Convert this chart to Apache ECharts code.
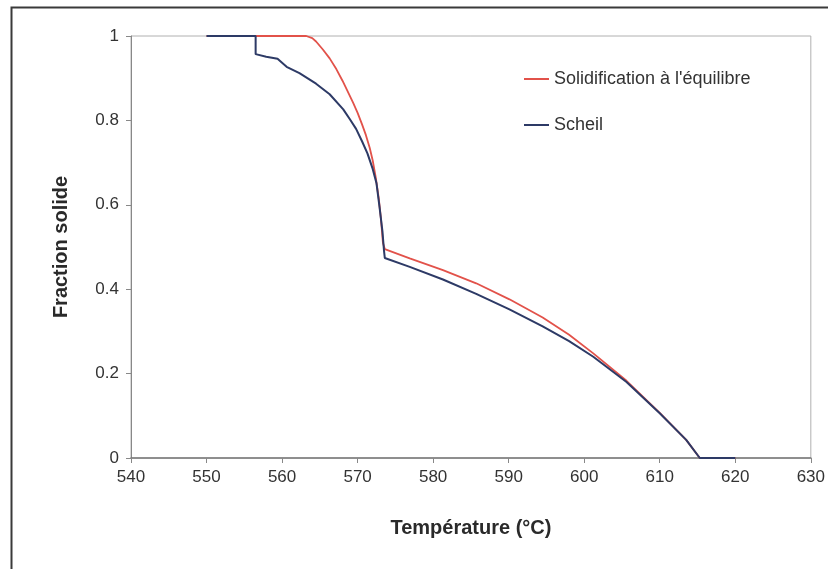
<!DOCTYPE html>
<html>
<head>
<meta charset="utf-8">
<title>Fraction solide</title>
<script src="https://cdn.jsdelivr.net/npm/echarts@6/dist/echarts.min.js"></script>
<style>
  html, body { margin: 0; padding: 0; background: #fff; }
  #chart { width: 828px; height: 569px; }
</style>
</head>
<body>
<div id="chart"></div>
<script>
// séries : [température °C, fraction solide]
const equilibreData = [
  [550, 1], [563.2, 1], [564.0, 0.995], [564.5, 0.987], [565.4, 0.968],
  [566.3, 0.947], [567.2, 0.921], [568.0, 0.894], [568.7, 0.868], [569.4, 0.842],
  [570.0, 0.818], [570.6, 0.79], [571.1, 0.765], [571.6, 0.735], [572.0, 0.705],
  [572.4, 0.665], [572.8, 0.615], [573.1, 0.565], [573.35, 0.51], [573.6, 0.495],
  [576.9, 0.473], [581.3, 0.445], [585.7, 0.414], [590.1, 0.376], [594.5, 0.333],
  [598, 0.292], [601.2, 0.248], [605.6, 0.183], [610, 0.107], [613.5, 0.043],
  [615.3, 0], [620, 0]
]
const scheilData = [
  [550, 1], [556.5, 1], [556.5, 0.957], [557.9, 0.951], [559.4, 0.946],
  [560.6, 0.927], [562.3, 0.912], [564.5, 0.887], [566.3, 0.862], [568.1, 0.826],
  [569.0, 0.802], [569.8, 0.78], [570.6, 0.75], [571.3, 0.722], [572.0, 0.685],
  [572.5, 0.651], [572.9, 0.595], [573.3, 0.535], [573.5, 0.49], [573.6, 0.474],
  [576.9, 0.453], [581.3, 0.423], [585.7, 0.389], [590.1, 0.352], [594.5, 0.312],
  [598, 0.277], [601.2, 0.24], [605.6, 0.18], [610, 0.106], [613.5, 0.043],
  [615.3, 0], [620, 0]
]
const seriesNames = ['Solidification à l\'équilibre', 'Scheil']

const chart = echarts.init(document.getElementById('chart'))

const font = '"Liberation Sans", Arial, sans-serif'

const option = {
  animation: false,
  backgroundColor: '#fff',
  textStyle: { fontFamily: font },
  graphic: [
    {
      // cadre de la figure
      type: 'rect',
      left: 9,
      top: 5,
      shape: { width: 840, height: 600 },
      style: { fill: 'none', stroke: '#3a3a3a', lineWidth: 2 },
      silent: true
    }
  ],
  grid: {
    left: 131,
    right: 17,
    top: 36,
    bottom: 111,
    show: true,
    borderColor: '#b0b0b0',
    borderWidth: 1
  },
  legend: {
    orient: 'vertical',
    left: 519,
    top: 65,
    icon: 'rect',
    itemWidth: 25,
    itemHeight: 2,
    itemGap: 28,
    textStyle: { fontFamily: font, fontSize: 18, color: '#333' },
    data: seriesNames
  },
  xAxis: {
    type: 'value',
    min: 540,
    max: 630,
    interval: 10,
    name: 'Température (°C)',
    nameLocation: 'middle',
    nameGap: 60,
    nameTextStyle: { fontFamily: font, fontSize: 20, fontWeight: 'bold', color: '#2a2a2a' },
    axisLine: { show: true, lineStyle: { color: '#777', width: 1.5 } },
    axisTick: { show: true, length: 5, lineStyle: { color: '#888' } },
    axisLabel: { fontSize: 17, color: '#333', margin: 11 },
    splitLine: { show: false }
  },
  yAxis: {
    type: 'value',
    min: 0,
    max: 1,
    interval: 0.2,
    name: 'Fraction solide',
    nameLocation: 'middle',
    nameGap: 60,
    nameTextStyle: { fontFamily: font, fontSize: 20, fontWeight: 'bold', color: '#2a2a2a' },
    axisLine: { show: true, lineStyle: { color: '#888' } },
    axisTick: { show: true, length: 5, lineStyle: { color: '#888' } },
    axisLabel: { fontSize: 17, color: '#333', margin: 12 },
    splitLine: { show: false }
  },
  series: [
    {
      name: seriesNames[0],
      type: 'line',
      data: equilibreData,
      symbol: 'none',
      lineStyle: { color: '#e2524a', width: 1.8 },
      itemStyle: { color: '#e2524a' }
    },
    {
      name: seriesNames[1],
      type: 'line',
      data: scheilData,
      symbol: 'none',
      lineStyle: { color: '#2d3a66', width: 2 },
      itemStyle: { color: '#2d3a66' }
    }
  ]
}

chart.setOption(option)
</script>
</body>
</html>
